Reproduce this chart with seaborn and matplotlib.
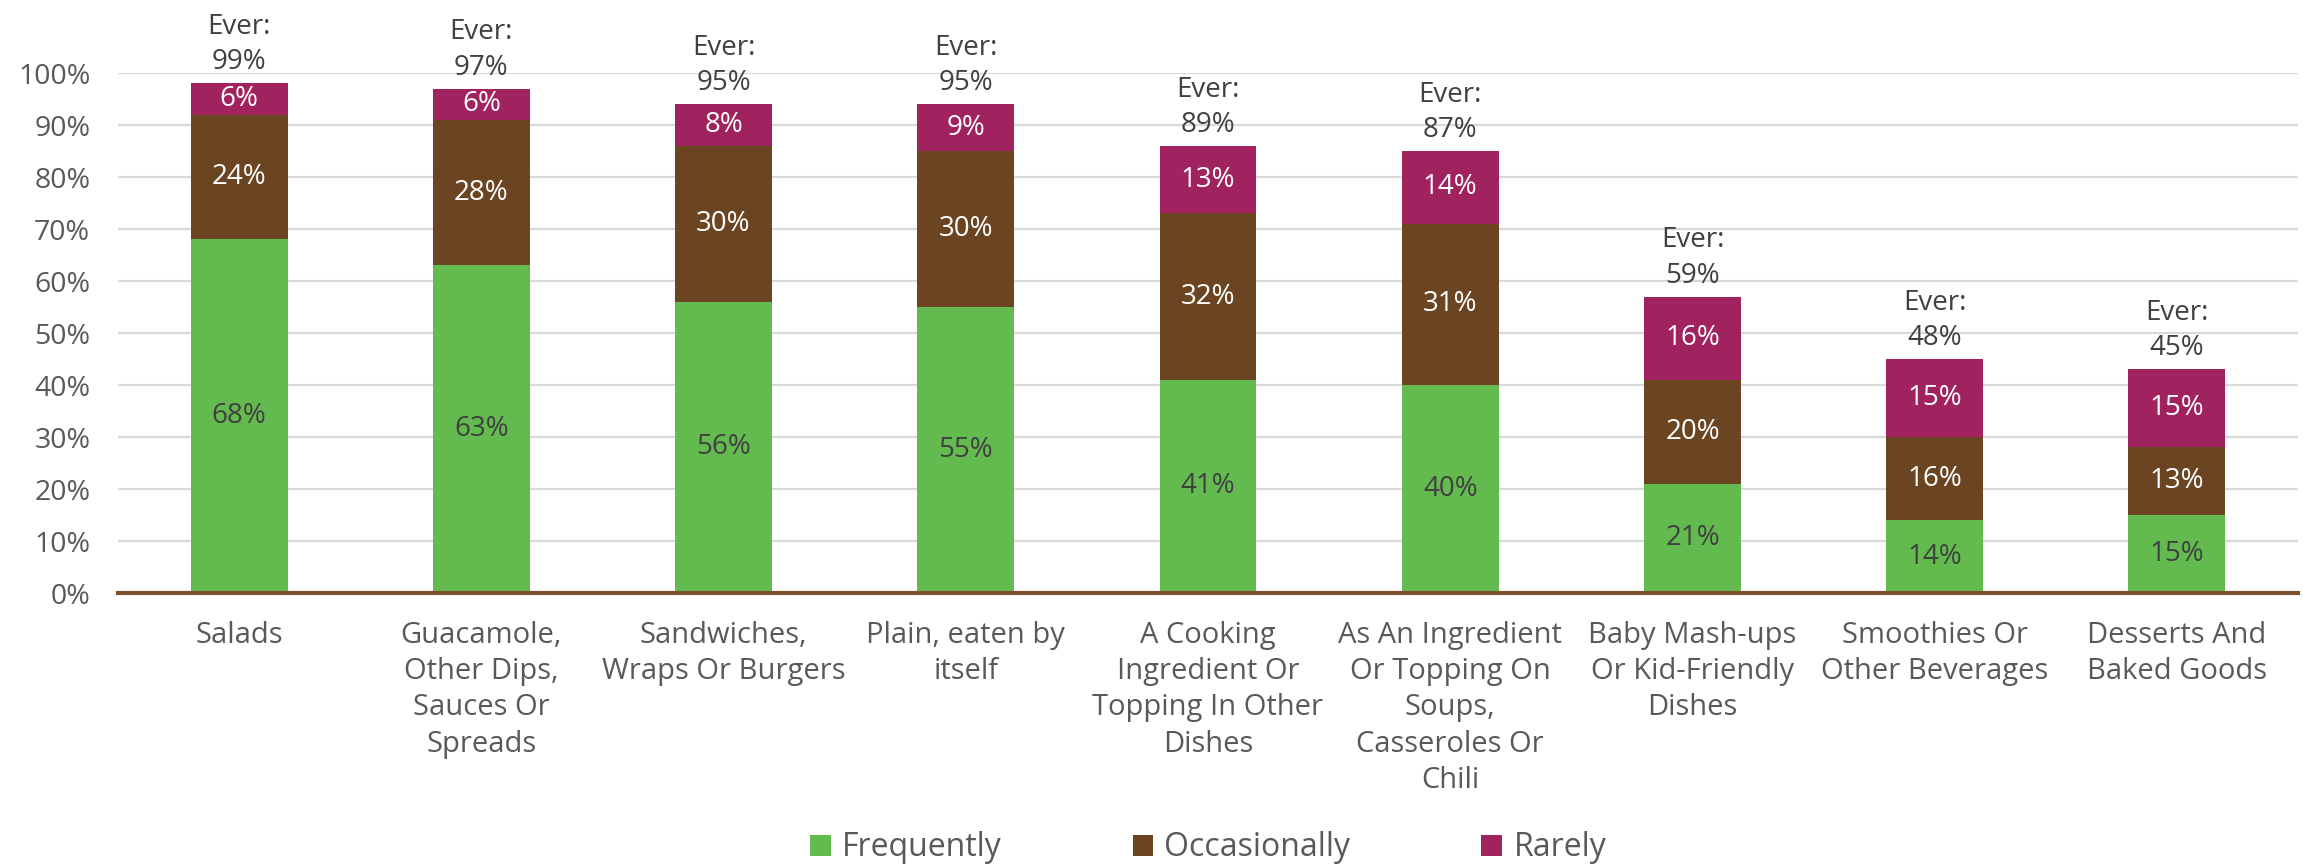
import matplotlib
matplotlib.use("Agg")
import matplotlib.pyplot as plt
import seaborn as sns
import numpy as np
from matplotlib.patches import Patch

categories = [
    "Salads",
    "Guacamole,\nOther Dips,\nSauces Or\nSpreads",
    "Sandwiches,\nWraps Or Burgers",
    "Plain, eaten by\nitself",
    "A Cooking\nIngredient Or\nTopping In Other\nDishes",
    "As An Ingredient\nOr Topping On\nSoups,\nCasseroles Or\nChili",
    "Baby Mash-ups\nOr Kid-Friendly\nDishes",
    "Smoothies Or\nOther Beverages",
    "Desserts And\nBaked Goods",
]
frequently = [68, 63, 56, 55, 41, 40, 21, 14, 15]
occasionally = [24, 28, 30, 30, 32, 31, 20, 16, 13]
rarely = [6, 6, 8, 9, 13, 14, 16, 15, 15]
ever = [99, 97, 95, 95, 89, 87, 59, 48, 45]
series_names = ["Frequently", "Occasionally", "Rarely"]
y_ticks = [0, 10, 20, 30, 40, 50, 60, 70, 80, 90, 100]

GREEN = "#63BB4F"
BROWN = "#6B4522"
MAGENTA = "#A0225F"
colors = [GREEN, BROWN, MAGENTA]

sns.set_theme(style="white")
plt.rcParams["font.family"] = ["Open Sans", "DejaVu Sans"]

W, H = 2303, 868
fig = plt.figure(figsize=(W / 100, H / 100), dpi=100)
ax = fig.add_axes([118 / W, 1 - 593 / H, 2180 / W, 520 / H])

freq = np.array(frequently)
occ = np.array(occasionally)
rare = np.array(rarely)
cum2 = freq + occ
tot = cum2 + rare

bar_kw = dict(saturation=1, width=0.4, ax=ax, linewidth=0, edgecolor="none")
sns.barplot(x=categories, y=tot, color=MAGENTA, zorder=2, **bar_kw)
sns.barplot(x=categories, y=cum2, color=BROWN, zorder=3, **bar_kw)
sns.barplot(x=categories, y=freq, color=GREEN, zorder=4, **bar_kw)

ax.set_ylim(0, 100)
ax.set_xlim(-0.5, len(categories) - 0.5)
ax.set_yticks(y_ticks)
ax.set_yticklabels([f"{t}%" for t in y_ticks])
ax.yaxis.grid(True, color="#D9D9D9", linewidth=1.6, zorder=0)
ax.set_axisbelow(True)
for s in ["top", "right", "left"]:
    ax.spines[s].set_visible(False)
ax.spines["bottom"].set_color("#7B5230")
ax.spines["bottom"].set_linewidth(3)
ax.spines["bottom"].set_zorder(6)
ax.tick_params(axis="y", length=0, pad=20, labelsize=20.5, labelcolor="#595959")
ax.tick_params(axis="x", length=0, pad=20, labelsize=21, labelcolor="#595959")
for lab in ax.get_xticklabels():
    lab.set_linespacing(1.33)
ax.set_xlabel("")
ax.set_ylabel("")

for i in range(len(categories)):
    ax.text(i, freq[i] / 2, f"{freq[i]}%", ha="center", va="center",
            fontsize=20, color="#404040", zorder=7)
    ax.text(i, freq[i] + occ[i] / 2, f"{occ[i]}%", ha="center", va="center",
            fontsize=20, color="white", zorder=7)
    ax.text(i, cum2[i] + rare[i] / 2, f"{rare[i]}%", ha="center", va="center",
            fontsize=20, color="white", zorder=7)
    ax.annotate(f"Ever:\n{ever[i]}%", (i, tot[i]), xytext=(0, 5),
                textcoords="offset points", ha="center", va="bottom",
                fontsize=20, color="#404040", linespacing=1.35,
                annotation_clip=False)

handles = [Patch(facecolor=c, edgecolor="none") for c in colors]
leg = fig.legend(handles, series_names, loc="center", ncol=3,
                 bbox_to_anchor=(1208 / W, 1 - 848 / H), frameon=False,
                 fontsize=23, handlelength=0.65, handleheight=0.65,
                 handletextpad=0.35, columnspacing=4.1)
for t in leg.get_texts():
    t.set_color("#595959")

fig.savefig("out.png", dpi=100)
